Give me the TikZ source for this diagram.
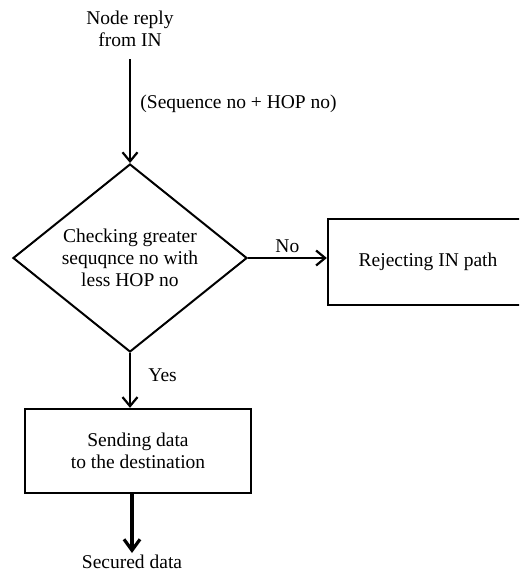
\documentclass[tikz,border=0pt]{standalone}
\usepackage{fontspec}
\setmainfont{Liberation Serif}
\usetikzlibrary{arrows.meta,shapes.geometric}
\begin{document}
\begin{tikzpicture}[x=1pt,y=-1pt,
  every node/.style={font=\fontsize{19.5}{22}\selectfont, align=center},
  flowbox/.style={draw, line width=2.4pt, rectangle, inner sep=0pt},
  decision/.style={draw, line width=2pt, diamond, inner sep=0pt, aspect=1.245},
  conn/.style={line width=2.2pt, -{Straight Barb[length=9pt,width=15pt]}},
  thickconn/.style={line width=3.2pt, -{Straight Barb[length=11pt,width=16pt]}}]
  \useasboundingbox (0,0) rectangle (519,575);
  \clip (0,0) rectangle (519,575);

  % nodes
  \node (src) at (130,29) {Node reply\\from IN};
  \node[decision, minimum width=234pt, minimum height=188pt] (dia) at (130,258)
    {Checking greater\\sequqnce no with\\less HOP no};
  \node[flowbox, minimum width=200pt, minimum height=86pt] (rej) at (428,262)
    {Rejecting IN path};
  \node[flowbox, minimum width=226pt, minimum height=84pt] (send) at (138,451)
    {Sending data\\to the destination};
  \node[anchor=north, inner sep=2pt] (sec) at (132,553) {Secured data};

  % connectors
  \draw[conn, shorten <=9pt] (src.south) -- (dia.north)
    node[pos=0.47, anchor=west, xshift=6pt] {(Sequence no + HOP no)};
  \draw[conn] (dia.east) -- (rej.west |- dia.east)
    node[midway, above, yshift=1pt] {No};
  \draw[conn] (dia.south) -- (dia.south |- send.north)
    node[midway, anchor=west, xshift=14pt, yshift=5pt] {Yes};
  \draw[thickconn] (send.south -| sec.north) -- (sec.north);
\end{tikzpicture}
\end{document}
